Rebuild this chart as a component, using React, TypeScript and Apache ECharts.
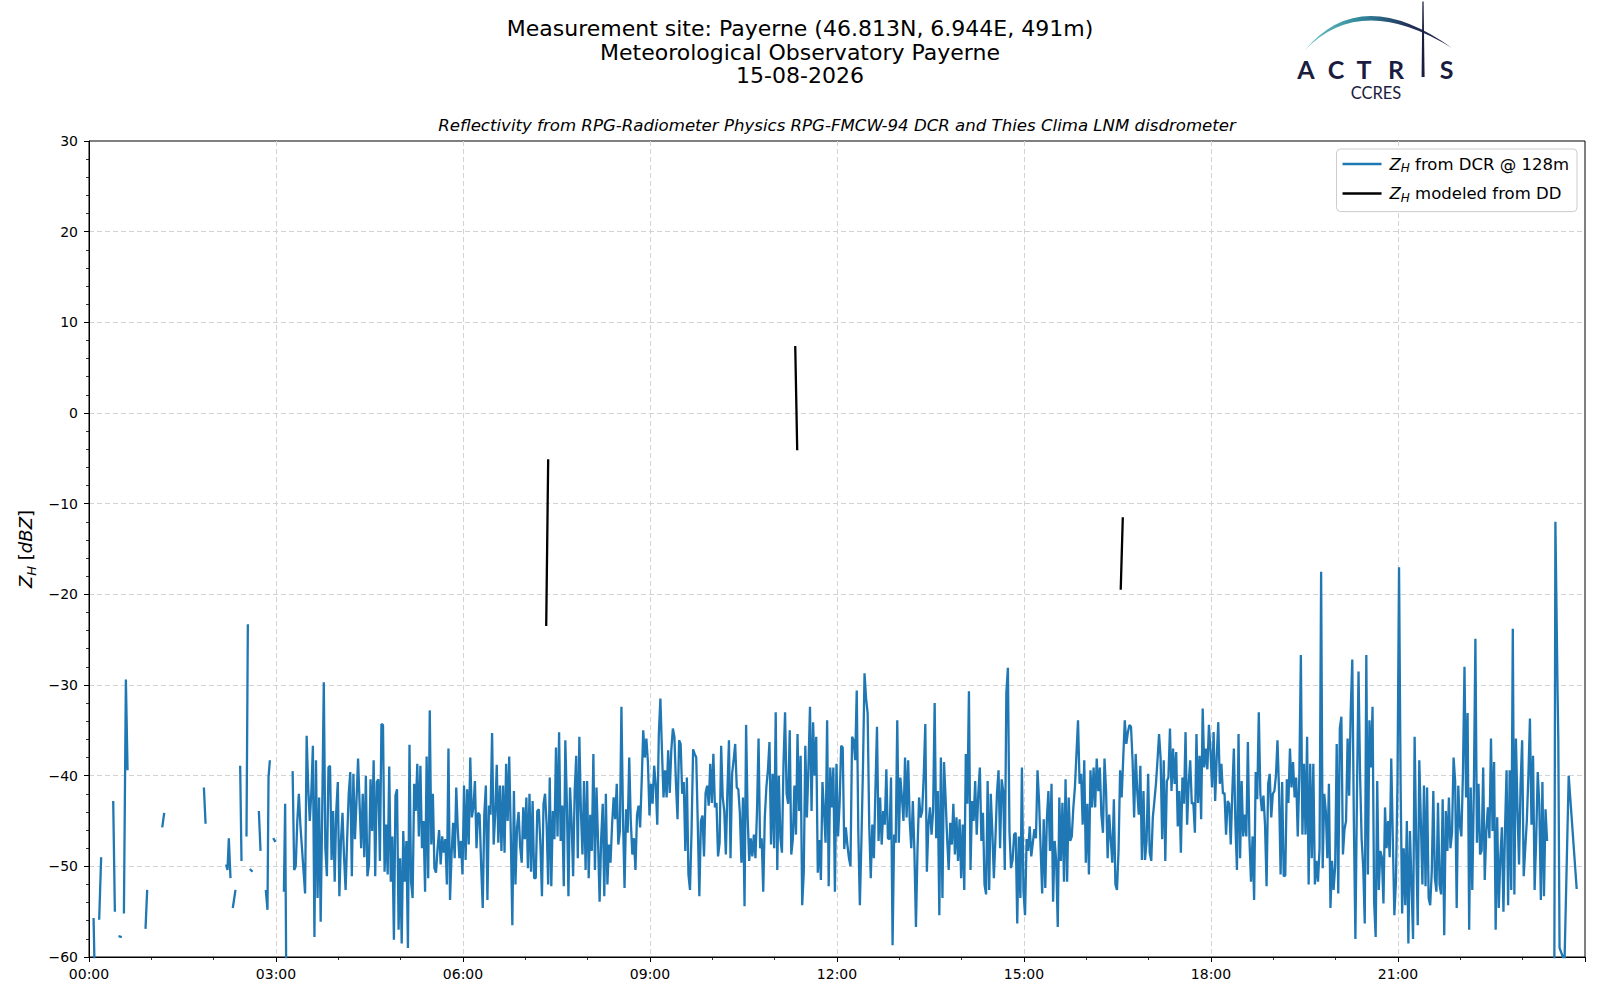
import { useEffect, useRef } from 'react';
import * as echarts from 'echarts';

// header texts
const titleLines = [
  'Measurement site: Payerne (46.813N, 6.944E, 491m)',
  'Meteorological Observatory Payerne',
  '15-08-2026',
];
const subtitle =
  'Reflectivity from RPG-Radiometer Physics RPG-FMCW-94 DCR and Thies Clima LNM disdrometer';
const seriesNames = ['Z_H from DCR @ 128m', 'Z_H modeled from DD'];

// x axis in minutes since 00:00
const dayMinutes = 1440;
const tickEvery = 180;

// short DCR pieces before the continuous record, [minute, dBZ]
const dcrEarly: [number, number][][] = [
  [[4.4, -55.7], [5.5, -62]],
  [[9.8, -55.9], [11.7, -49]],
  [[23.3, -42.8], [24.9, -55]],
  [[28.4, -57.7], [31.6, -57.8]],
  [[33.6, -55.2], [35.5, -29.4], [37.1, -39.4]],
  [[54.4, -56.9], [56, -52.6]],
  [[70.5, -45.7], [72.4, -44.1]],
  [[110.6, -41.3], [112.2, -45.3]],
  [[132, -49.8], [133.3, -50.4], [134.6, -46.9], [136.2, -51.3]],
  [[138.4, -54.6], [141, -52.6]],
  [[145.5, -38.9], [146.8, -49.4]],
  [[151.6, -46.7], [152.9, -23.3]],
  [[154.8, -50.3], [157.4, -50.6]],
  [[163.5, -43.9], [165.1, -48.3]],
  [[170.2, -52.6], [171.8, -54.8], [172.8, -40.2], [174.1, -38.3]],
  [[177.3, -46.9], [179.5, -47.3]],
  [[187.6, -52.8], [188.8, -43.1], [189.8, -61]],
];

// continuous DCR record, one value every 1.5 min from 03:16
const dcrStart = 196;
const dcrStep = 1.5;
const dcrZ: number[] = [
  -39.5, -50.4, -50, -45, -42, -45.5, -48, -50.5, -53, -35.6,
  -41.3, -45, -41.9, -36.7, -57.8, -38.3, -53.5, -42.4, -56.1, -43.9,
  -29.7, -48, -51.1, -39.1, -38.9, -49.3, -43.9, -51.7, -43.9, -40.7,
  -53.3, -47.2, -44.1, -49, -52.6, -46.9, -42, -39.6, -51.1, -39.8,
  -47, -42.8, -38.1, -43.2, -48, -42, -49, -40, -51.1, -49.8,
  -40.4, -46.1, -38.3, -51.1, -40.7, -40.4, -49.4, -34.3, -34.4, -50.6,

  -45.4, -50.9, -39, -51.7, -46.7, -58.1, -42.2, -41.5, -57, -49.1,
  -58.5, -46.1, -51.7, -47.2, -59, -36.6, -51.7, -53.5, -40.9, -43.9,
  -38.7, -46.7, -38.9, -48, -45, -52.8, -37.9, -51.3, -32.8, -47.6,
  -42, -50.2, -50.7, -48.1, -46, -49.8, -46.7, -48.5, -47, -52,
  -37, -53.7, -48.7, -45.2, -49.1, -41.3, -46, -49.1, -47.2, -50.9,
  -41.1, -49.3, -41.5, -47.6, -38, -44.6, -43.5, -40.6, -48, -44.1,
  -44.3, -50, -54.6, -44.3, -41.1, -53.7, -43.3, -44.3, -35.3, -47.6,
  -44.3, -38.8, -47.4, -41.1, -48.3, -41.1, -48.5, -38.7, -45, -37.9,
  -46.5, -56.5, -41.7, -52, -45.7, -44, -47.8, -49.6, -43.5, -47,
  -42.4, -50.2, -42, -50.6, -42.8, -51.3,

  -51.3, -43.9, -43.7, -47.6, -53.3, -43.1, -42, -45.4, -52, -40.2,
  -52.2, -43.9, -47, -36.9, -46.7, -35.2, -47.2, -43.3, -52.2, -36.1,
  -43.1, -53.3, -41.3, -45, -51.1, -41.7, -37.8, -49.1, -35.7, -43.9,
  -48.7, -40.6, -50.4, -40.6, -51.3, -44.3, -48.3, -37.6, -50.4, -41.3,
  -47.2, -53.9, -46.9, -43.1, -53.3, -42, -52, -47.6, -49.6, -45.4,
  -42.4, -44.8, -40.9, -47.6, -46.1, -32.4, -44.6, -52.4, -43.7, -46.3,
  -38, -45, -48.7, -46.9, -50.4, -44.3, -43.3, -45.7, -40.6, -35,
  -38, -35.9, -38.5, -44.4, -40.9, -43.1, -38.9, -41, -45.4, -35.4,
  -31.5, -37.2, -42.4, -39.4, -42.4, -37.2, -41.9, -37.2, -34.8, -35.7,
  -40.9, -44.8, -36.1, -36.5, -42, -40.7,

  -48.3, -40.2, -50.9, -52.6, -46.1, -37.1, -37.6, -38, -45.4, -53.3,
  -45, -44.4, -48.9, -41.9, -41.1, -43.3, -38.7, -43, -37.6, -43.5,
  -43, -48.9, -47.4, -36.7, -42.4, -43.9, -48.7, -41.7, -36.1, -49.1,
  -39.8, -38.3, -36.5, -41.3, -41.5, -44.1, -49.6, -42.4, -54.4, -34.4,
  -44.6, -49.4, -46.9, -48.9, -46.5, -49.1, -43.9, -35.9, -48, -46.9,
  -52.8, -44.6, -41.3, -39.4, -36.3, -47.6, -39.8, -48, -33, -50.4,
  -40, -46.9, -48.5, -38.7, -33, -42, -43.1, -35, -48.7, -47,
  -41.1, -46.5, -35.4, -43.9, -37.8, -54.3, -50.7, -36.7, -44.6, -39.1,
  -32.4, -43.9, -34.1, -40, -35.7, -50.7, -47.1, -51.5, -40.7, -43.9,
  -47.4, -33.9, -52.2, -39.1, -43.5, -39.1, -52.8,

  -38.7, -46.7, -43.1, -36.7, -36.9, -48.1, -45.7, -47.6, -49.1, -50,
  -35.7, -36.1, -38.3, -30.6, -46.1, -54.3, -47.2, -39.1, -28.7, -31.5,
  -33.1, -45.4, -51.3, -45.4, -49.1, -41.5, -34.6, -47.2, -42.4, -47.6,
  -43.9, -45.4, -39.3, -46.9, -47, -40.2, -58.7, -46.5, -47.4, -33.9,
  -47.4, -40.2, -42.4, -45, -38, -44.6, -38.3, -45, -48, -42.8,
  -48.3, -56.7, -48.1, -42.4, -44.6, -43.9, -40, -34.3, -50.6, -45.4,
  -43.5, -46.5, -43.9, -32, -46.9, -41.7, -55.4, -38, -53.5, -38.5,
  -42.4, -46.9, -50.4, -45.2, -47.6, -43.1, -48.7, -44.6, -49.4, -44.8,
  -51.3, -45.4, -52.6, -37.6, -43.1, -30.7, -50.4, -42.8, -45, -40.6,
  -46.5, -42, -39.1, -47.2, -44.1, -52,

  -53.1, -40.6, -52.6, -42, -46.1, -51.3, -46.9, -41.9, -39.4, -48,
  -40.4, -41.7, -50.4, -30.9, -28.1, -46.1, -50.2, -49.3, -46.5, -46.3,
  -56.3, -46.7, -53.5, -39.1, -52.8, -55.4, -47, -48.3, -45.6, -48.9,
  -47.4, -45.9, -46.9, -39.4, -42.8, -48, -53, -44.8, -52.4, -44.8,
  -41.7, -48.3, -40.9, -53.9, -47.2, -49.4, -56.7, -42.4, -49.4, -43,
  -51.7, -40.4, -51.7, -42.4, -47.2, -46.7, -43.5, -41.3, -37.6, -33.9,
  -40.9, -39.8, -45.4, -38.3, -49.6, -43.1, -50.9, -39.4, -43.5, -39.1,
  -43.5, -38.1, -41.7, -39.1, -44.3, -46.3, -38.1, -41.7, -49.1, -44.3,
  -47, -49.6, -42.6, -52, -52.6, -48.3, -39.4, -42.4, -38.1, -33.9,
  -36.5, -35.2, -34.4, -34.6, -38.3, -44.6,

  -37.6, -41.7, -44.3, -38.9, -49.3, -41.7, -49.3, -47.2, -39.8, -48.5,
  -49.4, -44.6, -42.8, -40.9, -38.3, -35.4, -38.1, -47, -38.3, -49.4,
  -40.6, -40.2, -34.8, -41.7, -37, -40.9, -37.4, -45.6, -41.7, -48.5,
  -40.2, -43.1, -35.2, -45.4, -40.9, -38.3, -43.1, -43, -46.3, -35.4,
  -43, -37.8, -44.8, -32.6, -39.1, -37, -39.3, -34.4, -37.2, -41.3,
  -35.2, -42.8, -38, -34.1, -40.9, -38.7, -42, -41.9, -46.5, -42.8,
  -43.1, -47.6, -41.9, -37, -45.4, -50.4, -35.4, -49.1, -40.6, -46.7,
  -44.3, -46.7, -36.3, -47, -51.7, -46.7, -53.7, -39.6, -42.6, -33,
  -42, -43.9, -42.2, -45.4, -52.2, -40.9, -39.8, -44.6, -42, -41.7,
  -40, -36.1, -41.7, -50.9, -40.7, -51.1,

  -51, -40.4, -43, -37, -41.3, -38.5, -42.4, -40.2, -46.7, -40.2,
  -26.7, -46.5, -38.7, -46.5, -35.7, -52, -38.7, -49.1, -38.7, -52,
  -49.4, -51.7, -48, -17.5, -50.2, -42, -43.9, -49.1, -40.9, -54.6,
  -49.4, -52.6, -50, -36.5, -53, -34.8, -33.5, -48.7, -45.9, -45,
  -35.9, -42.2, -32.8, -27.2, -45, -58, -42, -28.5, -40, -47,
  -50, -56.3, -26.7, -50.9, -33.9, -39.1, -32.4, -53.9, -57.8, -40.6,
  -52.6, -48.3, -49, -54.1, -43.5, -48, -45, -49, -38.1, -46.9,
  -55.4, -51.7, -40.9, -17, -40.9, -55.2, -48, -54.3, -45, -58.5,
  -46.1, -52, -58, -35.7, -47.2, -56.5, -38.3, -45, -52, -41.1,
  -52.2, -41.3, -53.5, -54.3, -50.6, -41.7, -51.3,

  -52.8, -43, -52, -53.1, -42.6, -57.6, -43.9, -48.3, -42.4, -48,
  -46.3, -38, -40.6, -54.6, -41.1, -45.4, -46.7, -39.8, -28, -42.4,
  -33.1, -57, -41.3, -52.6, -41.7, -24.9, -47.4, -40.9, -48.7, -48.3,
  -39.1, -51.5, -46.1, -43.5, -46.9, -35.9, -46.1, -38.5, -57, -44.6,
  -54.6, -49.1, -45.7, -55, -45.9, -39.4, -54.3, -39.4, -52.6, -23.8,
  -53.1, -35.9, -43.5, -49.8, -40.9, -36.1, -51.1, -48, -45, -40,
  -33.7, -45.4, -37.8, -52.6, -47, -39.6, -43.1, -53.7, -40.7, -53.3,
  -43.7, -47.2,
];

// last DCR piece after the short outage near 23:25
const dcrTail: [number, number][][] = [
  [
    [1410.5, -61], [1411.5, -12], [1413.5, -30], [1414.3, -36],
    [1415.5, -59], [1420.3, -60.5], [1424.3, -40], [1432, -52.5],
  ],
];

// disdrometer modeled reflectivity
const ddSegments: [number, number][][] = [
  [[440.1, -23.5], [442, -5.1]],
  [[679.8, 7.4], [681.7, -4.1]],
  [[993.1, -19.5], [995.1, -11.5]],
];

const FONT = 'DejaVu Sans';
const NAVY = '#1b1d40';

// join pieces, a null point between them breaks the line
const joinSegments = (segs: [number, number][][]) => {
  const out: [number, number | null][] = [];
  segs.forEach((s, i) => {
    if (i > 0) {
      const prev = segs[i - 1];
      out.push([(prev[prev.length - 1][0] + s[0][0]) / 2, null]);
    }
    out.push(...s);
  });
  return out;
};

const dcrDense: [number, number][] = dcrZ.map((v, i) => [dcrStart + i * dcrStep, v]);
const dcrData = joinSegments([...dcrEarly, dcrDense, ...dcrTail]);
const ddData = joinSegments(ddSegments);

const pad2 = (n: number) => String(n).padStart(2, '0');
const fmtTime = (v: number) => `${pad2(Math.floor(v / 60))}:${pad2(Math.round(v % 60))}`;
const fmtDbz = (v: number) => (v < 0 ? `\u2212${Math.abs(v)}` : String(v));

// ACTRIS arc, a crescent thicker in the middle
echarts.graphic.registerShape(
  'actrisArc',
  echarts.graphic.extendPath('M1305 50 Q1361 -17 1452 48 Q1361 -8 1305 50 Z', {}),
);

const subRich = (size: number, lh: number) => ({
  i: { fontFamily: FONT, fontStyle: 'italic', fontSize: size, lineHeight: lh, color: '#000' },
  s: {
    fontFamily: FONT,
    fontStyle: 'italic',
    fontSize: Math.round(size * 0.7),
    lineHeight: Math.round(size * 0.6),
    verticalAlign: 'bottom',
    color: '#000',
  },
  n: { fontFamily: FONT, fontSize: size, lineHeight: lh, color: '#000' },
});

const logoLetters: [string, number][] = [
  ['A', 1306],
  ['C', 1336],
  ['T', 1364],
  ['R', 1396],
  ['S', 1446.5],
];

const gridDash = { show: true, showMinLine: false, showMaxLine: false, lineStyle: { type: [5, 3], color: '#d3d3d3', width: 1 } };

const option: any = {
  animation: false,
  backgroundColor: '#fff',
  grid: {
    left: 89,
    right: 15,
    top: 141,
    bottom: 43,
    show: true,
    borderColor: '#000',
    borderWidth: 1,
    backgroundColor: 'transparent',
  },
  legend: {
    orient: 'vertical',
    right: 23,
    top: 149,
    icon: 'rect',
    itemWidth: 39,
    itemHeight: 2.5,
    itemGap: 9.6,
    padding: [5, 8, 8, 6],
    backgroundColor: 'rgba(255,255,255,0.85)',
    borderColor: '#cccccc',
    borderWidth: 1,
    borderRadius: 4,
    data: seriesNames,
    formatter: (name: string) => `{i|Z}{s|H}{n|${name.slice(3)}}`,
    textStyle: {
      fontFamily: FONT,
      fontSize: 16.5,
      lineHeight: 20,
      padding: [0, 0, 0, 3],
      rich: subRich(16.5, 20),
    },
  },
  xAxis: {
    type: 'value',
    min: 0,
    max: dayMinutes,
    interval: tickEvery,
    axisLine: { show: true, onZero: false, lineStyle: { color: '#000', width: 1 } },
    axisTick: { show: true, length: 5, lineStyle: { color: '#000', width: 1 } },
    minorTick: { show: true, splitNumber: 3, length: 3, lineStyle: { color: '#000', width: 0.8 } },
    axisLabel: {
      margin: 10,
      fontSize: 14,
      fontFamily: FONT,
      color: '#000',
      showMaxLabel: false,
      formatter: fmtTime,
    },
    splitLine: gridDash,
  },
  yAxis: {
    type: 'value',
    min: -60,
    max: 30,
    interval: 10,
    axisLine: { show: true, onZero: false, lineStyle: { color: '#000', width: 1 } },
    axisTick: { show: true, length: 5, lineStyle: { color: '#000', width: 1 } },
    minorTick: { show: true, splitNumber: 5, length: 3, lineStyle: { color: '#000', width: 0.8 } },
    axisLabel: { margin: 11, fontSize: 14, fontFamily: FONT, color: '#000', formatter: fmtDbz },
    splitLine: gridDash,
  },
  series: [
    {
      name: seriesNames[0],
      type: 'line',
      data: dcrData,
      symbol: 'none',
      showSymbol: false,
      connectNulls: false,
      lineStyle: { color: '#1f77b4', width: 2.3 },
      itemStyle: { color: '#1f77b4' },
      z: 2,
    },
    {
      name: seriesNames[1],
      type: 'line',
      data: ddData,
      symbol: 'none',
      showSymbol: false,
      connectNulls: false,
      lineStyle: { color: '#000', width: 2.3 },
      itemStyle: { color: '#000' },
      z: 3,
    },
  ],
  graphic: [
    ...titleLines.map((t, i) => ({
      type: 'text',
      x: 800,
      y: 28.6 + i * 23.5,
      style: {
        text: t,
        fontFamily: FONT,
        fontSize: 22,
        fill: '#000',
        align: 'center',
        verticalAlign: 'middle',
      },
    })),
    {
      type: 'text',
      x: 837,
      y: 125.5,
      style: {
        text: subtitle,
        fontFamily: FONT,
        fontStyle: 'italic',
        fontSize: 16.6,
        fill: '#000',
        align: 'center',
        verticalAlign: 'middle',
      },
    },
    {
      type: 'text',
      x: 25,
      y: 549,
      rotation: Math.PI / 2,
      style: {
        text: '{i|Z}{s|H}{n| [}{i|dBZ}{n|]}',
        rich: subRich(18, 25),
        align: 'center',
        verticalAlign: 'middle',
      },
    },
    // logo
    {
      type: 'actrisArc',
      x: 0,
      y: 0,
      scaleX: 1,
      scaleY: 1,
      style: {
        fill: new echarts.graphic.LinearGradient(0, 0, 1, 0, [
          { offset: 0, color: '#6cc6c2' },
          { offset: 0.4, color: '#2f8399' },
          { offset: 0.7, color: '#22315a' },
          { offset: 1, color: NAVY },
        ]),
      },
    },
    {
      type: 'polygon',
      shape: {
        points: [
          [1422.4, 1.5],
          [1423.6, 1.5],
          [1424.6, 77],
          [1421.6, 77],
        ],
      },
      style: { fill: NAVY },
    },
    ...logoLetters.map(([ch, x]) => ({
      type: 'text',
      x,
      y: 69,
      style: {
        text: ch,
        fontFamily: 'Lato',
        fontWeight: 'bold',
        fontSize: 25,
        fill: NAVY,
        align: 'center',
        verticalAlign: 'middle',
      },
    })),
    {
      type: 'text',
      x: 1376,
      y: 93,
      style: {
        text: 'CCRES',
        fontFamily: 'Lato',
        fontSize: 16.5,
        fill: NAVY,
        align: 'center',
        verticalAlign: 'middle',
      },
    },
  ],
};

export default function App() {
  const ref = useRef<HTMLDivElement>(null);

  useEffect(() => {
    if (!ref.current) return;
    const chart = echarts.init(ref.current, undefined, { renderer: 'svg' });
    chart.setOption(option);
    return () => {
      chart.dispose();
    };
  }, []);

  return (
    <div
      ref={ref}
      style={{ position: 'fixed', left: 0, top: 0, width: 1600, height: 1000, background: '#fff' }}
    />
  );
}
